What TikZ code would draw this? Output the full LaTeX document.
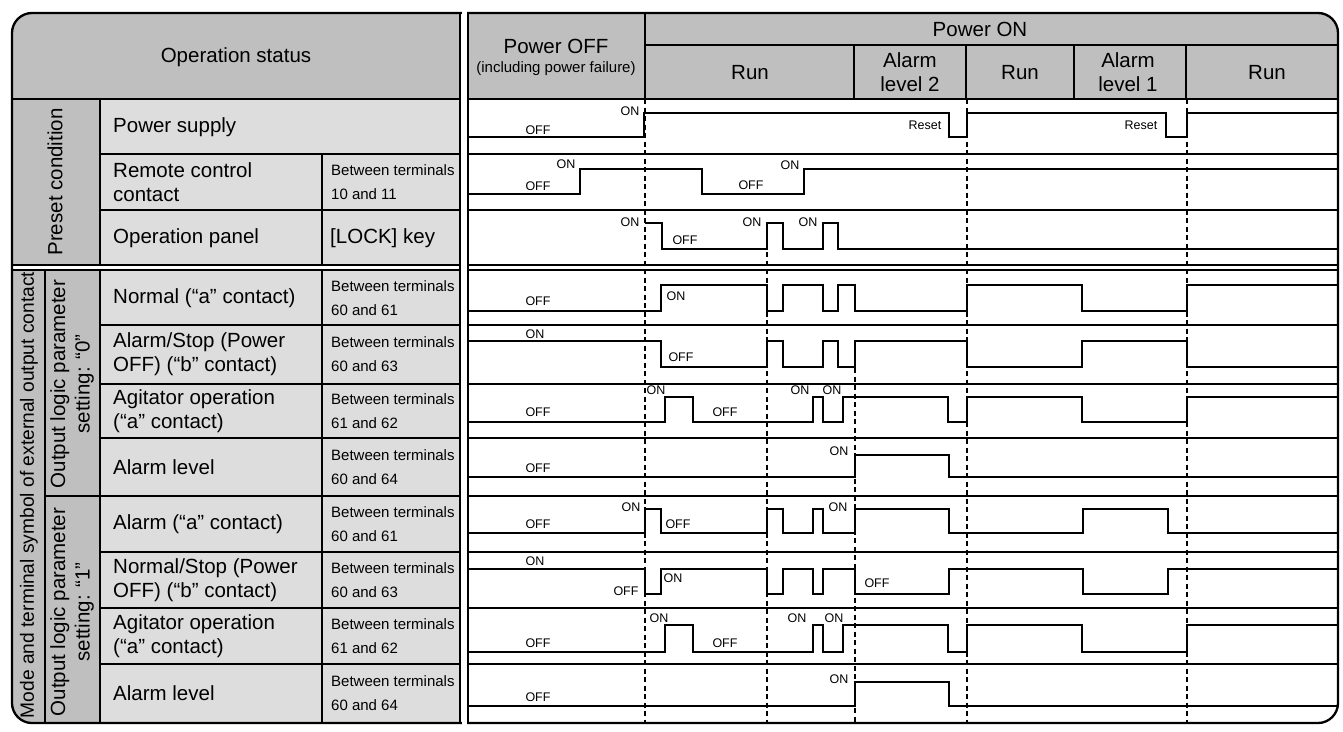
\documentclass[tikz,border=0pt]{standalone}
\usepackage{fontspec}
\setmainfont{Liberation Sans}
\usepackage{tikz}

\definecolor{headgray}{gray}{0.75}
\definecolor{cellgray}{gray}{0.865}
\newcommand{\lblfont}{\fontsize{20.5}{24.5}\selectfont}
\newcommand{\modefont}{\fontsize{19.2}{23}\selectfont}
\newcommand{\termfont}{\fontsize{15}{23.5}\selectfont}
\newcommand{\sigfont}{\fontsize{12.5}{14}\selectfont}
\newcommand{\failfont}{\fontsize{15}{18}\selectfont}

\begin{document}
\begin{tikzpicture}
    [line join=miter, x=1pt, y=-1pt,
     wave/.style={line width=2.7pt},
     rule/.style={line width=1.2pt},
     edge/.style={line width=2.3pt},
     timeline/.style={line width=1.3pt, dash pattern=on 5pt off 3.5pt},
     sig/.style={font=\sigfont, inner sep=0pt},
     head/.style={font=\lblfont, align=center, inner sep=0pt},
     lbl/.style={font=\lblfont, align=left, anchor=west, inner sep=0pt},
     term/.style={font=\termfont, align=left, anchor=west, inner sep=0pt}]
\useasboundingbox (0,0) rectangle (1343,731);

%background shading of the table
\begin{scope}
 \clip[rounded corners=20pt] (12,13) rectangle (1338,723);
 \fill[headgray] (12,13) rectangle (460,99);
 \fill[headgray] (468,13) rectangle (1338,99);
 \fill[headgray] (12,99) rectangle (100,265);
 \fill[cellgray] (100,99) rectangle (460,265);
 \fill[headgray] (12,270) rectangle (100,723);
 \fill[cellgray] (100,270) rectangle (460,723);
\end{scope}

%left table grid
\draw[rule] (12,99) -- (460,99);
\draw[rule] (100,99) -- (100,265);
\draw[rule] (100,154) -- (460,154);
\draw[rule] (100,210) -- (460,210);
\draw[rule] (322,154) -- (322,265);
\draw[rule] (45,270) -- (45,723);
\draw[rule] (100,270) -- (100,723);
\draw[rule] (322,270) -- (322,723);
\draw[rule] (100,325) -- (460,325);
\draw[rule] (100,384) -- (460,384);
\draw[rule] (100,438) -- (460,438);
\draw[rule] (45,496) -- (460,496);
\draw[rule] (100,552) -- (460,552);
\draw[rule] (100,608) -- (460,608);
\draw[rule] (100,664) -- (460,664);

%chart grid
\draw[rule] (468,99) -- (1338,99);
\draw[rule] (645,13) -- (645,99);
\draw[rule] (645,45) -- (1338,45);
\draw[rule] (854,45) -- (854,99);
\draw[rule] (966,45) -- (966,99);
\draw[rule] (1074,45) -- (1074,99);
\draw[rule] (1186,45) -- (1186,99);
\draw[rule] (468,154) -- (1338,154);
\draw[rule] (468,210) -- (1338,210);
\draw[rule] (468,325) -- (1338,325);
\draw[rule] (468,384) -- (1338,384);
\draw[rule] (468,438) -- (1338,438);
\draw[rule] (468,496) -- (1338,496);
\draw[rule] (468,552) -- (1338,552);
\draw[rule] (468,608) -- (1338,608);
\draw[rule] (468,664) -- (1338,664);

%dashed time marks
\draw[timeline] (645,99) -- (645,723);
\draw[timeline] (767,252) -- (767,723);
\draw[timeline] (855,368) -- (855,723);
\draw[timeline] (967,99) -- (967,723);
\draw[timeline] (1187,99) -- (1187,723);

%frame with the double rules
\draw[edge, rounded corners=20pt] (12,13) rectangle (1338,723);
\fill[white] (461.5,10) rectangle (466.5,726);
\draw[edge] (460,13) -- (460,723);
\draw[edge] (468,13) -- (468,723);
\draw[edge] (12,265) -- (460,265);
\draw[edge] (12,270) -- (460,270);
\draw[edge] (468,265) -- (1338,265);
\draw[edge] (468,270) -- (1338,270);

%headers
\node[head] (opstat) at (236,57) {Operation status};
\node[head] (poweroff) at (556,46) {Power OFF};
\node[font=\failfont, inner sep=0pt] (failure) at (556,69) {(including power failure)};
\node[head] (poweron) at (980,29) {Power ON};
\node[head] (runA) at (750,73) {Run};
\node[head] (alarmtwo) at (910,72) {Alarm\\level 2};
\node[head] (runB) at (1020,73) {Run};
\node[head] (alarmone) at (1128,72) {Alarm\\level 1};
\node[head] (runC) at (1267,73) {Run};

%row titles
\node[head, rotate=90] (preset) at (55,182) {Preset condition};
\node[font=\modefont, rotate=90, inner sep=0pt] (mode) at (29,495) {Mode and terminal symbol of external output contact};
\node[head, rotate=90] (setzero) at (72,384) {Output logic parameter\\setting: “0”};
\node[head, rotate=90] (setone) at (72,612) {Output logic parameter\\setting: “1”};

\node[lbl] (supply) at (113,127) {Power supply};
\node[lbl] (remote) at (113,182) {Remote control\\contact};
\node[lbl] (panel) at (113,238) {Operation panel};
\node[term] (tremote) at (331,182) {Between terminals\\10 and 11};
\node[lbl] (lockkey) at (330,238) {[LOCK] key};

\node[lbl] (normalz) at (113,298) {Normal (“a” contact)};
\node[lbl] (stopz) at (113,354) {Alarm/Stop (Power\\OFF) (“b” contact)};
\node[lbl] (agitz) at (113,411) {Agitator operation\\(“a” contact)};
\node[lbl] (levelz) at (113,467) {Alarm level};
\node[lbl] (alarmo) at (113,524) {Alarm (“a” contact)};
\node[lbl] (stopo) at (113,580) {Normal/Stop (Power\\OFF) (“b” contact)};
\node[lbl] (agito) at (113,636) {Agitator operation\\(“a” contact)};
\node[lbl] (levelo) at (113,693) {Alarm level};

\node[term] (tnormalz) at (331,298) {Between terminals\\60 and 61};
\node[term] (tstopz) at (331,354) {Between terminals\\60 and 63};
\node[term] (tagitz) at (331,411) {Between terminals\\61 and 62};
\node[term] (tlevelz) at (331,467) {Between terminals\\60 and 64};
\node[term] (talarmo) at (331,524) {Between terminals\\60 and 61};
\node[term] (tstopo) at (331,580) {Between terminals\\60 and 63};
\node[term] (tagito) at (331,636) {Between terminals\\61 and 62};
\node[term] (tlevelo) at (331,693) {Between terminals\\60 and 64};

%signals of the preset condition
\draw[wave] (468,137) -| (644,113) -| (949,137) -| (967,113) -| (1166,137) -| (1187,113) -- (1338,113);
\draw[wave] (468,194) -| (580,169) -| (702,194) -| (804,169) -- (1338,169);
\draw[wave] (645,223) -| (662,249) -| (767,223) -| (783,249) -| (823,223) -| (838,249) -- (1338,249);

%signals for setting "0"
\draw[wave] (468,311) -| (661,285) -| (767,311) -| (783,285) -| (823,311) -| (838,285) -| (855,311) -| (967,285) -| (1082,311) -| (1187,285) -- (1338,285);
\draw[wave] (468,341) -| (661,367) -| (767,341) -| (783,367) -| (823,341) -| (838,367) -| (855,341) -| (967,367) -| (1082,341) -| (1187,367) -- (1338,367);
\draw[wave] (468,422) -| (665,397) -| (693,422) -| (813,397) -| (823,422) -| (843,397) -| (948,422) -| (967,397) -| (1082,422) -| (1187,397) -- (1338,397);
\draw[wave] (468,477) -| (855,455) -| (949,477) -- (1338,477);

%signals for setting "1"
\draw[wave] (468,533) -| (645,509) -| (661,533) -| (767,509) -| (783,533) -| (813,509) -| (823,533) -| (855,509) -| (949,533) -| (1083,509) -| (1168,533) -- (1338,533);
\draw[wave] (468,569) -| (645,594) -| (661,569) -| (767,594) -| (783,569) -| (813,594) -| (823,569) -| (855,594) -| (949,569) -| (1083,594) -| (1168,569) -- (1338,569);
\draw[wave] (468,652) -| (665,625) -| (693,652) -| (813,625) -| (823,652) -| (843,625) -| (948,652) -| (967,625) -| (1082,652) -| (1187,625) -- (1338,625);
\draw[wave] (468,706) -| (855,682) -| (949,706) -- (1338,706);

%ON / OFF marks
\node[sig] (sAoff) at (538,130) {OFF};
\node[sig] (sAon) at (630,111) {ON};
\node[sig] (sAresa) at (925,125) {Reset};
\node[sig] (sAresb) at (1141,125) {Reset};
\node[sig] (sBon) at (566,164) {ON};
\node[sig] (sBoff) at (538,186) {OFF};
\node[sig] (sBoffb) at (751,185) {OFF};
\node[sig] (sBonb) at (790,165) {ON};
\node[sig] (sCon) at (630,222) {ON};
\node[sig] (sCoff) at (685,240) {OFF};
\node[sig] (sConb) at (752,222) {ON};
\node[sig] (sConc) at (808,222) {ON};

\node[sig] (sDoff) at (538,301) {OFF};
\node[sig] (sDon) at (676,296) {ON};
\node[sig] (sEon) at (535,334) {ON};
\node[sig] (sEoff) at (681,357) {OFF};
\node[sig] (sFoff) at (538,412) {OFF};
\node[sig] (sFon) at (656,390) {ON};
\node[sig] (sFoffb) at (725,412) {OFF};
\node[sig] (sFonb) at (800,390) {ON};
\node[sig] (sFonc) at (832,390) {ON};
\node[sig] (sGoff) at (538,468) {OFF};
\node[sig] (sGon) at (839,451) {ON};

\node[sig] (sHoff) at (538,524) {OFF};
\node[sig] (sHon) at (631,507) {ON};
\node[sig] (sHoffb) at (678,524) {OFF};
\node[sig] (sHonb) at (838,507) {ON};
\node[sig] (sIon) at (535,561) {ON};
\node[sig] (sIoff) at (626,591) {OFF};
\node[sig] (sIonb) at (673,578) {ON};
\node[sig] (sIoffb) at (877,583) {OFF};
\node[sig] (sJoff) at (538,643) {OFF};
\node[sig] (sJon) at (659,618) {ON};
\node[sig] (sJoffb) at (725,643) {OFF};
\node[sig] (sJonb) at (797,618) {ON};
\node[sig] (sJonc) at (834,618) {ON};
\node[sig] (sKoff) at (538,697) {OFF};
\node[sig] (sKon) at (839,679) {ON};

\end{tikzpicture}
\end{document}
